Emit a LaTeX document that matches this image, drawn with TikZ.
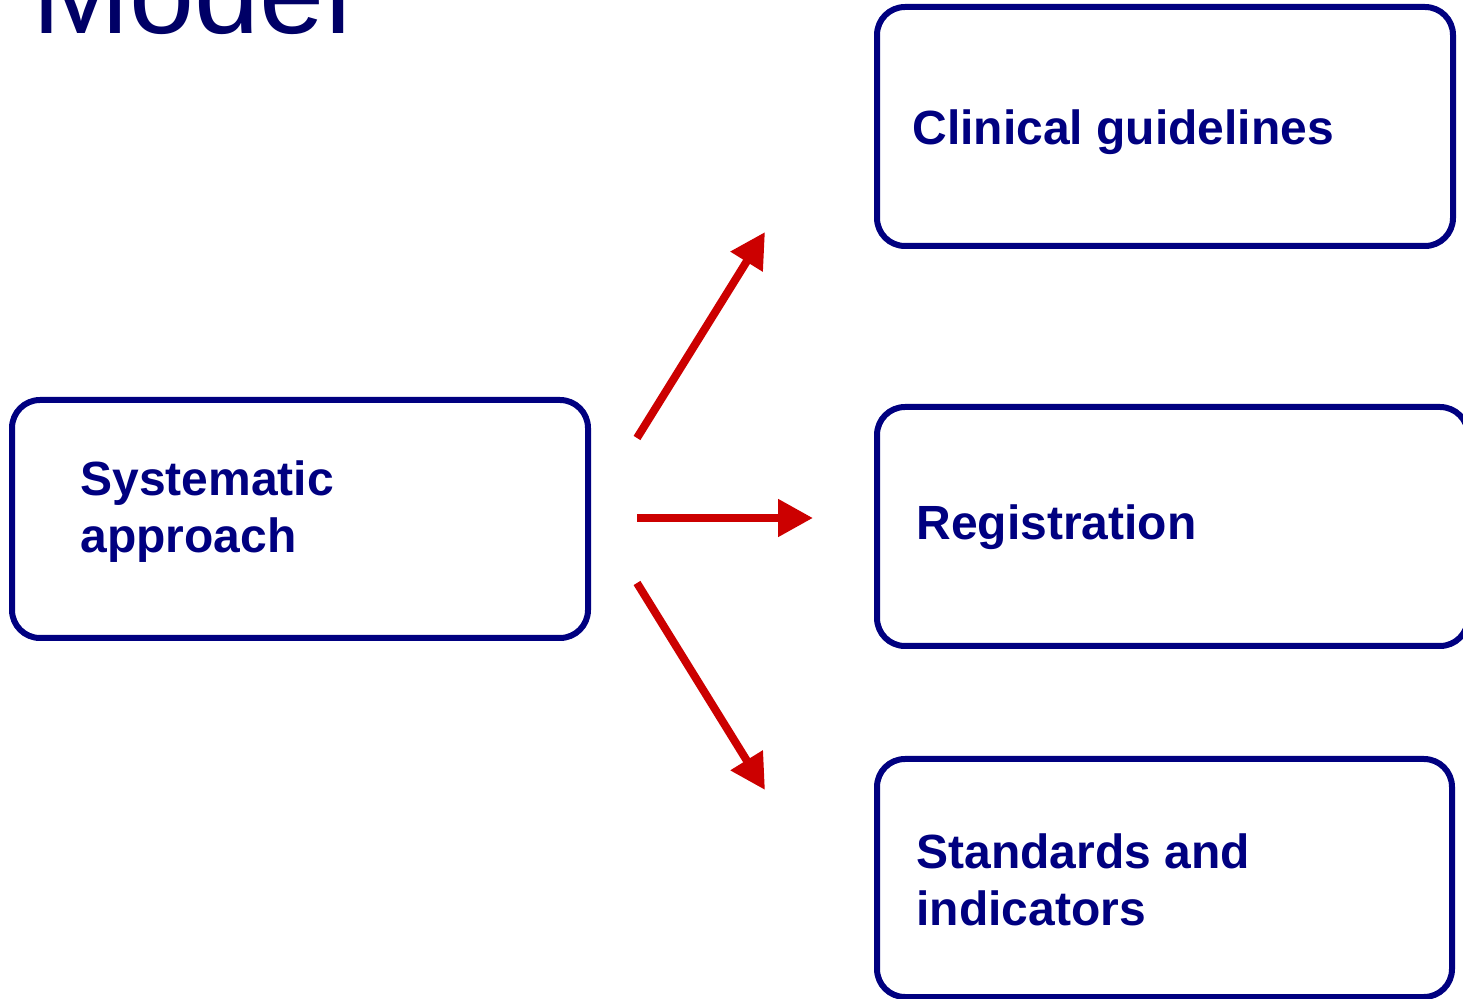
\documentclass[tikz,border=0pt]{standalone}
\usepackage{fontspec}
\setmainfont{Liberation Sans}
\usetikzlibrary{arrows.meta, positioning}

\definecolor{boxnavy}{RGB}{0,0,128}
\definecolor{titlenavy}{RGB}{0,0,102}
\definecolor{arrowred}{RGB}{204,0,0}

\begin{document}
\begin{tikzpicture}[
    x=0.5pt, y=-0.5pt,
    modelbox/.style={rectangle, draw=boxnavy, line width=3pt, rounded corners=14pt, inner sep=0pt},
    boxtext/.style={anchor=base west, inner sep=0pt, align=left, text=boxnavy, font=\fontsize{24}{28.5}\selectfont\bfseries},
    titletext/.style={anchor=base west, inner sep=0pt, text=titlenavy, font=\fontsize{58.5}{70}\selectfont},
    arrow/.style={-{Triangle[length=17.5pt, width=18pt]}, line width=4pt, draw=arrowred},
]
\useasboundingbox (0,0) rectangle (1463,999);
\clip (0,0) rectangle (1463,999);

% ============ Title ============
\node[titletext] (title) at (32,34) {Model};

% ============ Boxes ============
\node[modelbox, minimum width=288pt, minimum height=119pt] (systematic) at (300,519) {};
\node[modelbox, minimum width=288pt, minimum height=119.5pt] (guidelines) at (1165,126.5) {};
\node[modelbox, minimum width=295.5pt, minimum height=119.5pt] (registration) at (1172.5,526.5) {};
\node[modelbox, minimum width=287.5pt, minimum height=119pt] (standards) at (1164.5,878) {};

% box labels (base = last line)
\node[boxtext] (systematictext) at (80,553) {Systematic\\approach};
\node[boxtext] (guidelinestext) at (912,145) {Clinical guidelines};
\node[boxtext] (registrationtext) at (916,540) {Registration};
\node[boxtext] (standardstext) at (916,926) {Standards and\\indicators};

% ============ Arrows ============
\coordinate (upfrom) at (637,438);
\coordinate (upto) at (765,232);
\coordinate (midfrom) at (637,518);
\coordinate (midto) at (813,518);
\coordinate (downfrom) at (637,583);
\coordinate (downto) at (765,790);

\draw[arrow] (upfrom) -- (upto);
\draw[arrow] (midfrom) -- (midto);
\draw[arrow] (downfrom) -- (downto);

\end{tikzpicture}
\end{document}
